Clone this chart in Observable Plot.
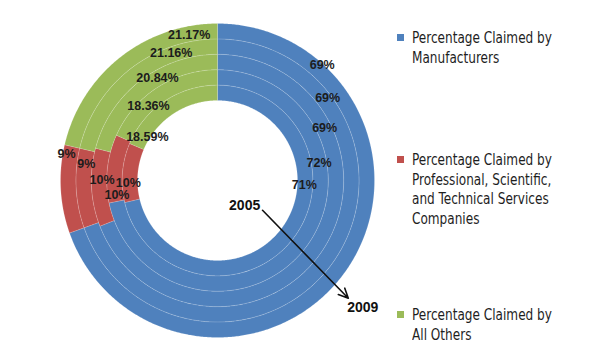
<!DOCTYPE html>
<html>
<head>
<meta charset="utf-8">
<script src="https://cdn.jsdelivr.net/npm/d3@7"></script>
<script src="https://cdn.jsdelivr.net/npm/@observablehq/plot@0.6"></script>
<style>
  html, body { margin: 0; padding: 0; background: #fff; }
  #wrap { position: relative; width: 615px; height: 350px; overflow: hidden; }
  .leg { position: absolute; left: 397px; font-family: "Liberation Sans Narrow", "DejaVu Sans Condensed", sans-serif; font-size: 16px; line-height: 19.7px; color: #1e1e1e; }
  .leg .sw { position: absolute; left: 0; width: 7px; height: 7px; top: 6px; }
  .leg .tx { position: absolute; left: 15px; top: 0; white-space: nowrap; transform: scaleX(0.84); transform-origin: 0 0; }
</style>
</head>
<body>
<div id="wrap"></div>
<script>
// ---- data (rings from inner 2005 to outer 2009) ----
const years = ["2005", "2006", "2007", "2008", "2009"];
const categories = [
  "Percentage Claimed by Manufacturers",
  "Percentage Claimed by Professional, Scientific, and Technical Services Companies",
  "Percentage Claimed by All Others"
];
const manufacturers = [71, 72, 69, 69, 69];
const professional = [10, 10, 10, 9, 9];
const allOthers = [18.59, 18.36, 20.84, 21.16, 21.17];
const colors = ["#4F81BD", "#C0504D", "#9BBB59"];

// ---- layout ----
const R0 = 80, R1 = 157;
const ringW = (R1 - R0) / years.length;
// where along each slice (0..1 of its sweep) the data label sits, rings inner->outer
const labelFrac = [
  [0.362, 0.31, 0.257, 0.212, 0.168],
  [0.33, 0.10, 0.6, 0.82, 0.90],
  [0.13, 0.35, 0.595, 0.74, 0.857]
];
const labelRad = [
  [0.45, 0.5, 0.55, 0.75, 0.95],
  [0.6, 0.4, 0.3, 0.4, 0.75],
  [0.15, 0.4, 0.5, 0.6, 0.45]
];

const series = [manufacturers, professional, allOthers];
const polys = [];
const labels = [];
const pt = (r, a) => ({x: r * Math.sin(a), y: r * Math.cos(a)});

years.forEach((yr, i) => {
  const vals = series.map(s => s[i]);
  const total = d3.sum(vals);
  const rin = R0 + i * ringW, rout = rin + ringW;
  let cum = 0;
  vals.forEach((v, j) => {
    const a0 = cum / total * 2 * Math.PI;
    cum += v;
    const a1 = cum / total * 2 * Math.PI;
    const id = yr + "-" + j;
    const n = Math.max(2, Math.ceil((a1 - a0) / (Math.PI / 360)));
    for (let k = 0; k <= n; k++) {
      const a = a0 + (a1 - a0) * k / n;
      polys.push({id, cat: categories[j], ...pt(rout, a)});
    }
    for (let k = n; k >= 0; k--) {
      const a = a0 + (a1 - a0) * k / n;
      polys.push({id, cat: categories[j], ...pt(rin, a)});
    }
    polys.push({id, cat: categories[j], ...pt(rout, a0)});
    const la = a0 + (a1 - a0) * labelFrac[j][i];
    const lr = rin + ringW * labelRad[j][i];
    labels.push({text: d3.format("")(v) + "%", ...pt(lr, la)});
  });
});

// year annotation: label inside the hole, arrow across the rings to outside
const deg = Math.PI / 180;
const yearNotes = [
  {text: years[0], ...pt(37, 132.8 * deg)},
  {text: years[years.length - 1], ...pt(R1 + 36, 131.2 * deg)}
];
const arrow = [{s: pt(54, 123.5 * deg), e: pt(176, 132 * deg)}];

const chart = Plot.plot({
  width: 615,
  height: 350,
  margin: 0,
  x: {domain: [-R1, R1], range: [60, 374], axis: null},
  y: {domain: [-R1, R1], range: [337, 23], axis: null},
  color: {domain: categories, range: colors},
  style: {background: "#fff"},
  marks: [
    Plot.line(polys, {x: "x", y: "y", z: "id", fill: "cat", stroke: "white", strokeOpacity: 0.15, strokeWidth: 1, curve: "linear"}),
    Plot.text(labels, {x: "x", y: "y", text: "text", fontSize: 12.5, fontWeight: "bold", fill: "#1c1c1c", fontFamily: "Liberation Sans, Arial, sans-serif"}),
    Plot.arrow(arrow, {x1: d => d.s.x, y1: d => d.s.y, x2: d => d.e.x, y2: d => d.e.y, stroke: "#111", strokeWidth: 1.6, headLength: 10, headAngle: 50}),
    Plot.text(yearNotes, {x: "x", y: "y", text: "text", fontSize: 14, fontWeight: "bold", fill: "#111", fontFamily: "Liberation Sans, Arial, sans-serif"})
  ]
});

const wrap = document.getElementById("wrap");
wrap.appendChild(chart);

const legendItems = [
  {top: 28, lines: ["Percentage Claimed by", "Manufacturers"]},
  {top: 150, lines: ["Percentage Claimed by", "Professional, Scientific,", "and Technical Services", "Companies"]},
  {top: 305, lines: ["Percentage Claimed by", "All Others"]}
];
legendItems.forEach((it, j) => {
  const d = document.createElement("div");
  d.className = "leg";
  d.style.top = it.top + "px";
  const sw = document.createElement("div");
  sw.className = "sw";
  sw.style.background = colors[j];
  const tx = document.createElement("div");
  tx.className = "tx";
  tx.innerHTML = it.lines.join("<br>");
  d.appendChild(sw);
  d.appendChild(tx);
  wrap.appendChild(d);
});
</script>
</body>
</html>
